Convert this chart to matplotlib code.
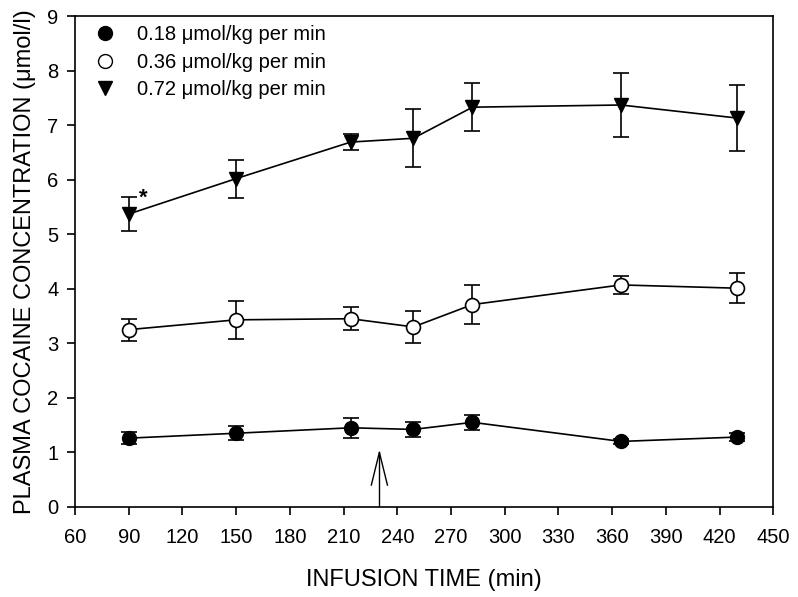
import matplotlib
matplotlib.use("Agg")
import matplotlib.pyplot as plt
from matplotlib.lines import Line2D

plt.rcParams['font.family'] = ['Liberation Sans', 'DejaVu Sans']

time = [90, 150, 214, 249, 282, 365, 430]
low = [1.26, 1.35, 1.45, 1.42, 1.55, 1.20, 1.28]
low_err = [0.11, 0.13, 0.18, 0.14, 0.14, 0.04, 0.08]
mid = [3.25, 3.43, 3.45, 3.30, 3.71, 4.07, 4.01]
mid_err = [0.20, 0.35, 0.21, 0.29, 0.36, 0.17, 0.27]
high = [5.37, 6.02, 6.69, 6.76, 7.33, 7.37, 7.13]
high_err = [0.31, 0.35, 0.15, 0.53, 0.44, 0.58, 0.60]
labels = ["0.18 \u03bcmol/kg per min", "0.36 \u03bcmol/kg per min", "0.72 \u03bcmol/kg per min"]
xticks = list(range(60, 451, 30))
yticks = list(range(0, 10))
arrow_x = 230

fig = plt.figure(figsize=(7.98, 5.97), dpi=100)
ax = fig.add_axes([0.094, 0.151, 0.875, 0.822])

common = dict(color='black', lw=1.2, capsize=5.5, elinewidth=1.2, capthick=1.2)
ax.errorbar(time, high, yerr=high_err, marker='v', ms=10, mfc='black', mec='black', **common)
ax.errorbar(time, mid, yerr=mid_err, marker='o', ms=10, mfc='white', mec='black', mew=1.2, **common)
ax.errorbar(time, low, yerr=low_err, marker='o', ms=10, mfc='black', mec='black', **common)

ax.text(96, 5.66, '*', fontsize=16, fontweight='bold', ha='left', va='center')

# arrow
ax.plot([arrow_x, arrow_x], [0, 1.0], color='black', lw=1.0)
ax.plot([arrow_x - 4.5, arrow_x, arrow_x + 4.5], [0.4, 1.0, 0.4], color='black', lw=1.0)

ax.set_xlim(60, 450)
ax.set_ylim(0, 9)
ax.set_xticks(xticks)
ax.set_yticks(yticks)
ax.tick_params(direction='out', length=6, width=1.2, labelsize=14.5, top=False, right=False)
ax.tick_params(axis='x', pad=9)
ax.tick_params(axis='y', pad=6)
for s in ax.spines.values():
    s.set_linewidth(1.2)

ax.set_xlabel('INFUSION TIME (min)', fontsize=17, labelpad=16)
ax.set_ylabel('PLASMA COCAINE CONCENTRATION (\u03bcmol/l)', fontsize=17, labelpad=8)

handles = [
    Line2D([], [], marker='o', ms=10, mfc='black', mec='black', ls='none'),
    Line2D([], [], marker='o', ms=10, mfc='white', mec='black', ls='none'),
    Line2D([], [], marker='v', ms=10, mfc='black', mec='black', ls='none'),
]
ax.legend(handles, labels, loc='upper left', bbox_to_anchor=(-0.006, 1.01), frameon=False,
          fontsize=14.5, handletextpad=0.6, labelspacing=0.42, borderaxespad=0.3)

fig.savefig('out.png', dpi=100)
